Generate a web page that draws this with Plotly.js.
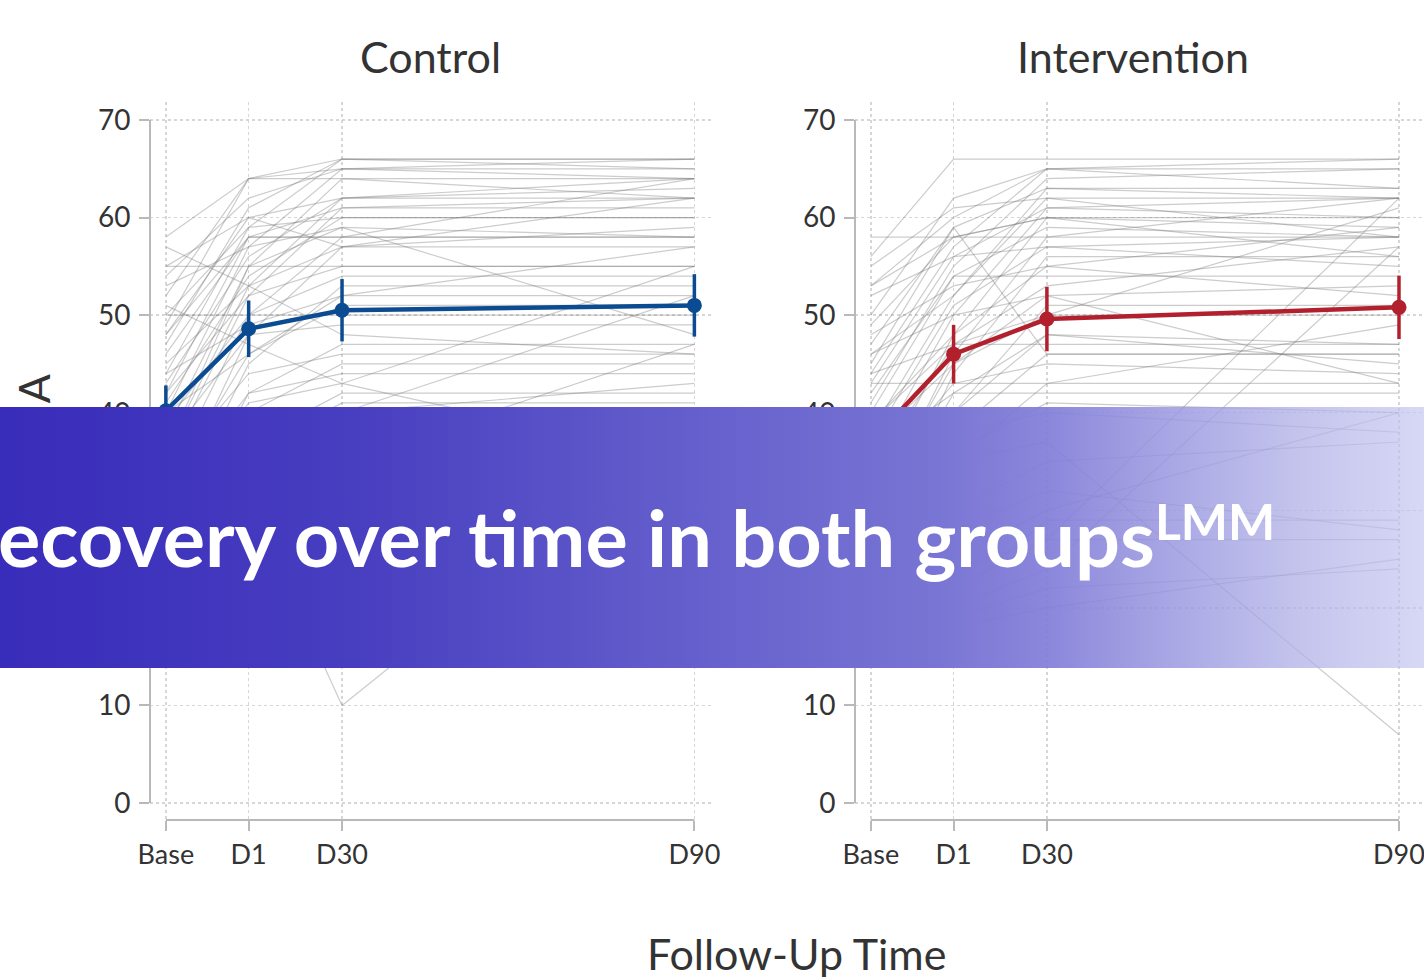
<!DOCTYPE html>
<html>
<head>
<meta charset="utf-8">
<script src="https://cdn.plot.ly/plotly-3.0.1.min.js"></script>
<style>
html,body{margin:0;padding:0;background:#fff;}
#wrap{position:relative;width:1424px;height:979px;overflow:hidden;}
#chart{position:absolute;left:0;top:0;width:1424px;height:979px;}
#banner{position:absolute;left:0;top:0;width:1424px;height:979px;pointer-events:none;z-index:10;}
</style>
</head>
<body>
<div id="wrap">
<div id="chart"></div>
<svg id="banner" width="1424" height="979" xmlns="http://www.w3.org/2000/svg">
  <defs>
    <linearGradient id="bg" x1="0" y1="0" x2="1" y2="0">
      <stop offset="0" stop-color="rgb(56,44,186)"/>
      <stop offset="0.25" stop-color="rgb(72,62,192)"/>
      <stop offset="0.5" stop-color="rgb(102,97,205)"/>
      <stop offset="0.66" stop-color="rgb(121,117,212)"/>
      <stop offset="0.74" stop-color="rgb(130,126,217)" stop-opacity="0.92"/>
      <stop offset="0.81" stop-color="rgb(149,146,222)" stop-opacity="0.85"/>
      <stop offset="0.91" stop-color="rgb(175,175,231)" stop-opacity="0.75"/>
      <stop offset="1" stop-color="rgb(193,195,238)" stop-opacity="0.65"/>
    </linearGradient>
  </defs>
  <rect x="0" y="407" width="1424" height="261" fill="url(#bg)"/>
  <text id="bR" x="-6" y="567" text-anchor="end" fill="#ffffff" font-family="Lato, 'Open Sans', sans-serif" font-weight="700" font-size="84">R</text>
  <text id="bt" x="-2" y="567" fill="#ffffff" font-family="Lato, 'Open Sans', sans-serif" font-weight="700" font-size="84"><tspan id="bMain">ecovery over time in both groups</tspan><tspan id="bSup" font-size="53" dy="-27">LMM</tspan></text>
</svg>
</div>
<script>
// ---- data ----
const timeLabels = ["Base", "D1", "D30", "D90"];
const timePos = [0, 0.94, 2, 6];
const yTicks = [0, 10, 20, 30, 40, 50, 60, 70];

const panelTitles = ["Control", "Intervention"];
const xTitle = "Follow-Up Time";
const yTitle = "UE-FMA";

// individual participants, Control group
const controlBase = [52,58,47,44,54,40,49,38,55,43,46,35,50,41,36,53,48,33,45,30,55,42,39,28,44,50,32,37,26,57,34,24,31,29,22,20,51,27,18,31,16,42,17,23,36,19,48,25,16,40];
const controlD1   = [64,64,61,59,62,57,64,55,60,56,58,52,59,54,55,57,58,50,53,48,55,52,50,45,49,50,46,48,42,53,44,40,42,41,37,36,47,39,30,31,25,58,21,33,53,28,60,35,24,46];
const controlD30  = [66,65,66,66,65,65,64,64,62,62,61,61,60,60,59,59,58,58,57,57,55,55,54,53,52,50,51,49,47,48,46,45,44,43,42,41,43,40,38,10,33,58,28,36,62,35,57,40,30,52];
const controlD90  = [66,66,66,65,65,64,64,62,63,62,61,62,60,60,58,48,58,58,57,59,55,55,54,53,52,50,51,49,47,46,46,45,44,55,42,41,35,52,40,39,36,64,33,30,64,47,62,43,32,57];

// individual participants, Intervention group
const interBase = [56,50,44,53,41,47,38,55,43,35,49,32,58,45,40,29,52,37,42,26,48,34,30,46,23,39,27,44,21,33,43,18,36,25,16,20,28,31,24,16,19,22,17,17,53,46,39,33,16,37];
const interD1   = [66,62,57,60,55,59,52,61,56,50,58,48,58,59,54,46,56,51,54,44,53,47,45,50,40,47,42,47,38,43,43,35,42,36,20,24,35,38,30,18,25,28,22,21,58,52,48,40,19,45];
const interD30  = [66,65,65,65,64,63,62,62,61,61,60,60,58,46,59,58,57,57,54,56,55,53,52,52,51,50,48,47,46,45,43,43,42,41,24,27,37,40,35,20,30,32,27,29,60,63,55,48,22,50];
const interD90  = [66,66,65,63,65,63,62,58,62,60,60,59,58,46,58,62,55,58,54,56,52,57,53,43,51,50,47,47,46,44,43,49,42,40,57,62,7,38,37,25,40,28,27,29,56,62,59,45,24,61];

// group means and standard errors
const controlMean = [40.2, 48.6, 50.5, 51.0];
const controlSE   = [2.6, 2.9, 3.2, 3.2];
const interMean   = [37.0, 46.0, 49.6, 50.8];
const interSE     = [3.0, 3.0, 3.3, 3.25];

// ---- styling ----
const W = 1424, H = 979;
const FONT = "Lato, 'Open Sans', sans-serif";
const TXT = "#333333";
const AXC = "#b9b9b9";
const GRID = "#d6d6d6";
const SPAG = "rgba(120,120,120,0.38)";
const BLUE = "#0b4b91";
const RED = "#b2202d";

const traces = [];
function addGroup(b, d1, d30, d90, xa, ya) {
  for (let i = 0; i < b.length; i++) {
    traces.push({
      type: "scatter", mode: "lines", x: timePos, y: [b[i], d1[i], d30[i], d90[i]],
      xaxis: xa, yaxis: ya, line: {color: SPAG, width: 1.2}, hoverinfo: "skip", showlegend: false
    });
  }
}
addGroup(controlBase, controlD1, controlD30, controlD90, "x", "y");
addGroup(interBase, interD1, interD30, interD90, "x2", "y2");

function addMean(m, se, xa, ya, col) {
  traces.push({
    type: "scatter", mode: "lines+markers", x: timePos, y: m, xaxis: xa, yaxis: ya,
    line: {color: col, width: 4.5}, marker: {color: col, size: 15},
    error_y: {type: "data", array: se, visible: true, width: 0, thickness: 3.5, color: col},
    showlegend: false, hoverinfo: "skip"
  });
}
addMean(controlMean, controlSE, "x", "y", BLUE);
addMean(interMean, interSE, "x2", "y2", RED);

const yDom = [1 - 820 / H, 1 - 102 / H];
const yRange = [-1.742, 71.845];

function xAxis(dom, rng, anchor) {
  return {
    domain: dom, range: rng, anchor: anchor,
    tickvals: timePos, ticktext: timeLabels,
    ticks: "outside", ticklen: 10, tickwidth: 2, tickcolor: AXC,
    ticklabelstandoff: 1, ticklabeloverflow: "allow",
    tickfont: {family: FONT, size: 27, color: TXT},
    showline: false, zeroline: false,
    showgrid: true, gridcolor: GRID, gridwidth: 1.5, griddash: "dot",
    fixedrange: true
  };
}
function yAxis(anchor) {
  return {
    domain: yDom, range: yRange, anchor: anchor,
    tickvals: yTicks, ticktext: yTicks.map(String),
    ticks: "outside", ticklen: 10, tickwidth: 2, tickcolor: AXC,
    ticklabelstandoff: 3,
    tickfont: {family: FONT, size: 28, color: TXT},
    showline: false, zeroline: false,
    showgrid: true, gridcolor: GRID, gridwidth: 1.5, griddash: "dot",
    fixedrange: true
  };
}

const shapes = [];
[["x", "y"], ["x2", "y2"]].forEach(([xa, ya]) => {
  shapes.push({type: "line", xref: xa + " domain", x0: 0, x1: 0, yref: ya, y0: yTicks[0], y1: yTicks[yTicks.length - 1],
    line: {color: AXC, width: 2}});
  shapes.push({type: "line", xref: xa, x0: timePos[0], x1: timePos[timePos.length - 1], yref: ya + " domain", y0: 0, y1: 0,
    line: {color: AXC, width: 2}});
});

const annotations = [
  {text: panelTitles[0], x: 430 / W, y: 1 - 57 / H, xref: "paper", yref: "paper", xanchor: "center", yanchor: "middle",
    showarrow: false, font: {family: FONT, size: 43, color: TXT}},
  {text: panelTitles[1], x: 1133 / W, y: 1 - 56 / H, xref: "paper", yref: "paper", xanchor: "center", yanchor: "middle",
    showarrow: false, font: {family: FONT, size: 43, color: TXT}},
  {text: xTitle, x: 796 / W, y: 1 - 953 / H, xref: "paper", yref: "paper", xanchor: "center", yanchor: "middle",
    showarrow: false, font: {family: FONT, size: 43, color: TXT}},
  {text: yTitle, x: 33 / W, y: 1 - 372 / H, xref: "paper", yref: "paper", xanchor: "center", yanchor: "top",
    textangle: -90, showarrow: false, font: {family: FONT, size: 43, color: TXT}}
];

const layout = {
  width: W, height: H,
  margin: {l: 0, r: 0, t: 0, b: 0, pad: 0},
  paper_bgcolor: "#ffffff", plot_bgcolor: "#ffffff",
  font: {family: FONT, color: TXT},
  showlegend: false, hovermode: false,
  xaxis: xAxis([150 / W, 712 / W], [-0.18, 6.2], "y"),
  yaxis: yAxis("x"),
  xaxis2: xAxis([855 / W, 1], [-0.18, 6.284], "y2"),
  yaxis2: yAxis("x2"),
  shapes: shapes,
  annotations: annotations
};

Plotly.newPlot("chart", traces, layout, {displayModeBar: false, staticPlot: true});

function fitBanner() {
  const t = document.getElementById("bt");
  const r = document.getElementById("bR");
  const main = document.getElementById("bMain");
  const sup = document.getElementById("bSup");
  t.setAttribute("font-size", "84");
  const len = main.getComputedTextLength();
  const fs = 84 * 1157 / len;
  t.setAttribute("font-size", fs.toFixed(2));
  r.setAttribute("font-size", fs.toFixed(2));
  sup.setAttribute("font-size", (fs * 0.63).toFixed(2));
}
fitBanner();
if (document.fonts && document.fonts.ready) {
  document.fonts.ready.then(fitBanner);
}
</script>
</body>
</html>
